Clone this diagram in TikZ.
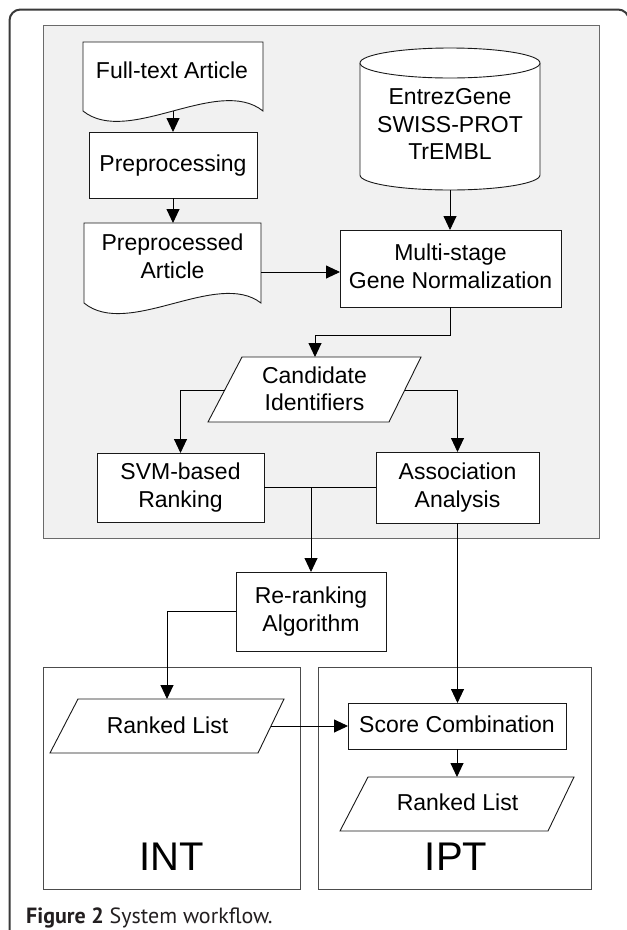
\documentclass[tikz,border=0pt]{standalone}
\usepackage{fontspec}
\setmainfont{Liberation Sans}
\newfontfamily\capfont{PT Sans}
\usetikzlibrary{arrows.meta}
\newcommand\zs{\rule[-7pt]{0pt}{26pt}}
\definecolor{panelfill}{HTML}{F1F1F1}
\definecolor{panelline}{HTML}{6A6A6A}
\definecolor{framecol}{HTML}{3A3A3A}
\definecolor{capcol}{HTML}{231F20}
\begin{document}
\begin{tikzpicture}[x=1pt,y=-1pt,
  lbl/.style={font=\fontsize{23}{27.5}\selectfont, align=center, inner sep=0pt, outer sep=0pt},
  box/.style={lbl, draw=black!90, fill=white, line width=0.9pt, rectangle},
  plain/.style={lbl},
  shapeline/.style={draw=black!90, fill=white, line width=0.9pt},
  groupbox/.style={draw=black!70, line width=1pt},
  conn/.style={draw=black, line width=0.9pt},
  arr/.style={conn, -{Triangle[length=14pt,width=13pt]}},
  big/.style={font=\fontsize{40}{44}\selectfont, inner sep=0pt, anchor=base},
]
\useasboundingbox (0,0) rectangle (627,930);
\fill[white] (0,0) rectangle (627,930);
% outer frame
\draw[framecol, line width=2pt, rounded corners=11pt] (9.5,940) -- (9.5,9.5) -- (629,9.5) -- (629,40);
% grey panel
\draw[panelline, fill=panelfill, line width=1pt] (43,25) rectangle (599,538);
% INT / IPT group boxes
\draw[groupbox] (43,667) rectangle (300,889);
\draw[groupbox] (318,667) rectangle (591,889);

% document shapes
\node[plain, minimum width=180pt, minimum height=69pt] (ft) at (173,76.5) {};
\draw[shapeline] (ft.south west) -- (ft.north west) -- (ft.north east) -- (ft.south east)
  .. controls +(-45,-36) and +(45,36) .. (ft.south west) -- cycle;
\node[plain] (ftt) at (172,72) {\zs Full-text Article};

\node[plain, minimum width=177pt, minimum height=80pt] (pa) at (172.5,263) {};
\draw[shapeline] (pa.south west) -- (pa.north west) -- (pa.north east) -- (pa.south east)
  .. controls +(-44,-34) and +(44,36) .. (pa.south west) -- cycle;
\node[plain] (pat) at (172.5,258.5) {\zs Preprocessed\\\zs Article};

% database cylinder
\node[plain, minimum width=180pt, minimum height=142pt] (db) at (450,119) {};
\fill[white] (360,63) -- (360,175) arc[start angle=180, end angle=360, x radius=90pt, y radius=15pt] -- (540,63) -- cycle;
\draw[draw=black!90, line width=0.9pt] (360,63) -- (360,175) arc[start angle=180, end angle=360, x radius=90pt, y radius=15pt] -- (540,63);
\draw[shapeline] (450,63) ellipse[x radius=90pt, y radius=15pt];
\node[plain] (dbt) at (450,126) {\zs EntrezGene\\\zs SWISS-PROT\\\zs TrEMBL};

% process boxes
\node[box, minimum width=168pt, minimum height=66pt] (pre) at (173,165) {\zs Preprocessing};
\node[box, minimum width=221pt, minimum height=77pt] (ms) at (450.5,268.5) {\zs Multi-stage\\\zs Gene Normalization};
\node[box, minimum width=167pt, minimum height=69pt] (svm) at (180.5,487.5) {\zs SVM-based\\\zs Ranking};
\node[box, minimum width=163pt, minimum height=71pt] (assoc) at (457.5,487.5) {\zs Association\\\zs Analysis};
\node[box, minimum width=150pt, minimum height=79pt] (rerank) at (311,611.5) {\zs Re-ranking\\\zs Algorithm};
\node[box, minimum width=218pt, minimum height=46pt] (score) at (457,726) {\zs Score Combination};

% data (parallelogram) shapes
\draw[shapeline] (242,357) -- (421,357) -- (389,422) -- (208,422) -- cycle;
\node[plain] (cand) at (314.5,391) {\zs Candidate\\\zs Identifiers};
\coordinate (candN) at (315,357);
\coordinate (candW) at (225,390);
\coordinate (candE) at (405,390);

\draw[shapeline] (78,699) -- (284,699) -- (258,753) -- (50,753) -- cycle;
\node[plain] (rl1) at (167.5,727) {\zs Ranked List};
\coordinate (rl1N) at (167,699);
\coordinate (rl1E) at (271,726);

\draw[shapeline] (368,777) -- (574,777) -- (548,831) -- (340,831) -- cycle;
\node[plain] (rl2) at (457.5,804) {\zs Ranked List};
\coordinate (rl2N) at (457,777);

% group labels
\node[big] (intl) at (172,870) {INT};
\node[big] (iptl) at (456,870) {IPT};

% connectors
\draw[arr] (ft.south) -- (pre.north);
\draw[arr] (pre.south) -- (pre.south |- pa.north);
\draw[arr] (db.south) -- (db.south |- ms.north);
\draw[arr] (pa.east |- 0,272) -- (ms.west |- 0,272);
\draw[arr] (ms.south) -- ++(0,28) -| (candN);
\draw[arr] (candW) -| (svm.north);
\draw[arr] (candE) -| (assoc.north);
\draw[conn] (svm.east) -- (assoc.west);
\draw[arr] (rerank.north |- svm.east) -- (rerank.north);
\draw[arr] (rerank.west) -| (rl1N);
\draw[arr] (assoc.south) -- (assoc.south |- score.north);
\draw[arr] (rl1E) -- (score.west);
\draw[arr] (score.south) -- (rl2N);

% caption
\node[anchor=base west, inner sep=0pt, font=\capfont\fontsize{22}{26}\selectfont, text=capcol] (cap) at (26,923) {\textbf{Figure 2} System workflow.};
\end{tikzpicture}
\end{document}
